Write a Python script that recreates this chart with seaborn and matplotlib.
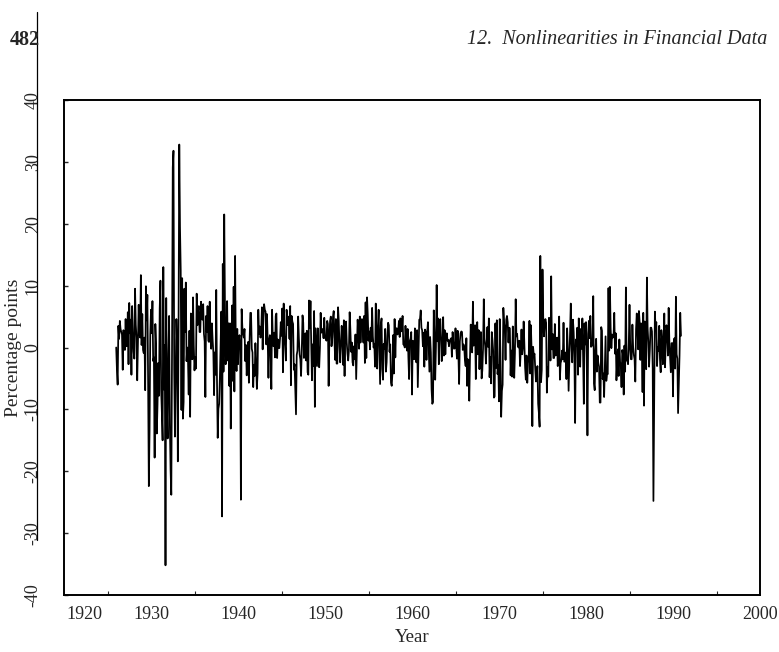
import numpy as np
import pandas as pd
import matplotlib
matplotlib.use('Agg')
import matplotlib.pyplot as plt
import matplotlib.transforms as mtransforms
from matplotlib.lines import Line2D
from matplotlib.ticker import MultipleLocator
import seaborn as sns

# monthly returns in percentage points, one decade per list
r1920s = [0.0, -3.6, -6.0, 3.5, 1.4, 4.3, 3.0, 2.5, 2.1, -3.6, 2.8, 1.8,
          -0.4, 4.6, 0.2, 0.4, 5.7, -2.7, 7.2, 2.3, 4.5, -4.4, 6.7, 2.2,
          -0.7, -1.8, 9.5, 3.7, 1.6, -5.3, 0.8, 6.9, 2.3, 1.6, 11.7, 0.4,
          5.4, -0.4, -0.9, 1.6, -6.9, 9.9, 4.4, 8.5, -5.2, -22.4, -13.6, 2.1]
r1930s = [6.1, 2.3, 7.5, -2.2, -1.6, -17.8, 3.8, 0.4, -13.9, -9.2, -2.5, -7.8,
          6.3, 10.8, -6.8, -10.6, -15.0, 13.0, -6.8, 0.4, -35.2, 8.0, -10.1, -14.7,
          -1.0, 5.1, -12.3, -19.8, -23.8, -0.8, 29.1, 31.8, -3.5, -14.4, -4.5, 4.6,
          0.6, -18.4, 3.3, 32.8, 19.4, 12.5, -10.1, 11.2, -11.5, -8.8, 9.5, 2.5,
          10.5, -2.2, 0.0, -1.9, -7.6, 2.7, -11.2, 5.5, -0.3, -1.9, 8.1, 0.3,
          -3.7, -1.5, -3.4, 8.7, 3.6, 6.0, 6.7, 2.5, 2.5, 7.4, 4.6, 4.5,
          7.0, 2.2, 1.0, -8.0, 5.1, 2.5, 6.7, 1.1, 0.9, 7.4, 1.8, -0.2,
          3.9, 1.3, -0.8, -7.7, -0.8, -4.4, 9.3, -5.1, -14.6, -9.9, -9.1, -4.8,
          0.8, 5.8, -27.3, 13.5, -3.9, 21.5, 7.1, -2.7, 0.5, 7.5, -2.1, 3.9,
          -6.2, 3.9, -13.1, -0.3, 6.8, -5.4, 9.8, -7.1, 14.8, -0.6, -3.8, 3.0]
r1940s = [-2.7, 1.2, 2.0, 0.0, -24.6, 6.2, 3.3, 2.3, 1.6, 3.0, -2.2, 0.4,
          -4.5, -1.3, 0.9, -5.7, 1.2, 5.6, 5.6, -0.2, -0.8, -6.4, -2.8, -4.6,
          0.7, -2.4, -6.7, -4.2, 6.1, 2.2, 3.4, 1.6, 2.6, 6.5, -0.3, 4.9,
          7.0, 6.1, 5.8, 0.5, 5.4, 0.9, -4.9, 1.2, 2.0, -1.3, -6.7, 6.1,
          1.6, 0.2, 2.4, -1.6, 5.1, 5.5, -1.7, 1.3, -0.1, -0.1, 1.5, 4.1,
          1.9, 6.3, -4.0, 7.1, 1.9, 0.2, -2.1, 6.1, 4.7, 3.6, 5.0, 1.4,
          6.7, -6.1, 5.1, 4.2, 3.8, -3.6, -2.7, -6.9, -10.8, -1.2, -0.5, 5.0,
          1.5, -1.1, -1.9, -4.6, -0.4, 5.2, 4.0, -1.7, -0.7, 2.3, -2.1, 2.7,
          -4.0, -4.4, 7.6, 3.1, 7.5, 0.5, -5.3, 0.5, -3.0, 5.9, -9.6, 3.1,
          0.2, -3.0, 3.1, -1.9, -3.2, -0.1, 5.6, 2.4, 2.7, 3.0, 1.5, 4.8]
r1950s = [1.6, 1.4, 1.1, 4.3, 3.8, -6.2, 1.3, 4.3, 5.0, 0.2, 1.6, 4.9,
          5.9, 1.3, -2.0, 4.6, -2.6, -2.6, 6.5, 4.3, 0.2, -2.4, 0.4, 3.5,
          1.5, -2.8, 4.4, -4.6, 3.1, 4.2, 0.8, -1.0, -2.1, -0.4, 5.7, 2.9,
          -0.7, 0.8, -2.4, -2.9, 0.2, -1.9, 2.1, -5.1, 0.0, 4.5, 2.6, -0.2,
          5.0, 0.8, 3.5, 4.6, 3.5, 0.8, 5.1, -2.5, 7.3, -1.7, 8.1, 5.3,
          1.1, 2.6, -0.3, 3.2, 1.0, 6.4, 1.8, 0.0, 0.6, -3.1, 7.1, 1.1,
          -3.4, 3.5, 6.1, -0.2, -5.9, 3.6, 4.7, -3.5, -5.2, 0.6, -0.2, 3.0,
          -3.9, -2.4, 1.9, 4.0, 3.6, -0.7, 0.5, -5.7, -6.2, -4.2, 2.0, -4.2,
          4.6, -1.6, 3.1, 3.1, 2.1, 2.7, 4.3, 1.7, 4.7, 2.6, 2.9, 5.1,
          0.5, 0.5, 0.0, 3.5, 1.3, -0.5, 3.0, -1.6, -5.1, 1.1, 1.5, 2.5]
r1960s = [-7.6, 1.1, -1.5, -1.9, 3.1, 2.0, -2.4, 2.8, -6.4, -0.7, 4.5, 4.6,
          6.0, 3.2, 2.8, 0.2, 2.4, -3.1, 2.9, 2.4, -2.0, 2.6, 4.1, 0.1,
          -3.9, 1.7, -0.8, -6.8, -9.1, -8.8, 6.0, 1.7, -5.2, 0.0, 10.1, 1.0,
          4.7, -2.7, 3.2, 4.6, 1.6, -2.2, -0.6, 4.9, -1.3, 2.8, -1.1, 1.8,
          2.3, 1.1, 1.2, 0.2, 1.1, 1.3, 1.5, -1.5, 2.5, 0.6, -0.2, -0.1,
          3.1, 0.2, -1.8, 2.7, -1.2, -5.9, 1.0, 2.3, 2.6, 2.5, -0.4, 0.5,
          0.1, -2.0, -3.0, 1.5, -6.2, -1.9, -2.1, -8.6, -1.6, 3.7, 0.5, -0.8,
          7.4, 0.3, 3.3, 3.6, -5.1, 1.3, 4.1, -1.1, 2.8, -3.5, 0.0, 2.5,
          -5.0, -3.7, -0.2, 7.8, 1.3, 0.2, -2.6, 0.9, 3.3, 0.1, 4.7, -4.8,
          -1.6, -5.8, 2.5, 1.2, -0.6, -8.1, -7.9, 3.9, -3.3, 4.4, -4.3, -2.9]
r1970s = [-8.7, 4.6, -1.0, -11.2, -7.0, -6.0, 6.4, 4.0, 3.0, -2.0, 4.5, 5.1,
          4.1, 0.8, 3.2, 3.1, -4.5, -0.5, -4.7, 3.4, -1.3, -4.9, -0.9, 7.8,
          1.8, 2.2, 0.2, 0.0, 1.1, -3.0, -0.6, 2.9, -1.1, 0.1, 4.2, 0.5,
          -3.2, -5.2, -1.3, -5.7, -2.5, -1.6, 4.3, -4.2, 3.6, -0.6, -12.7, 0.1,
          -1.3, -1.0, -3.5, -5.5, -4.5, -3.0, -9.1, -10.6, -12.8, 14.8, -5.6, -3.6,
          12.6, 4.9, 1.8, 3.8, 4.6, 4.0, -7.3, -3.2, -4.7, 4.8, 2.0, -2.1,
          11.5, -0.3, 2.2, -1.7, -1.7, 3.8, -1.3, -0.5, 1.6, -3.0, -0.5, 5.0,
          -5.2, -2.5, -2.1, -0.5, -1.9, 4.0, -2.3, -2.2, -0.8, -5.1, 3.1, -0.4,
          -7.0, -2.3, 2.0, 7.1, 0.7, -2.4, 4.5, 2.5, -1.6, -12.2, 1.3, 0.3,
          3.2, -4.4, 4.7, -0.8, -3.1, 3.0, -0.2, 4.7, -1.5, -9.1, 3.9, 0.5]
r1980s = [4.1, -1.7, -14.2, 2.2, 4.3, 1.5, 5.1, 0.1, 0.9, 0.3, 8.3, -5.8,
          -6.9, -0.5, 1.4, -3.9, -1.3, -2.5, -3.1, -8.9, -8.9, 3.3, 2.7, -5.1,
          -4.2, -8.0, -3.4, 1.8, -5.4, -4.2, -4.3, 9.6, -0.5, 9.8, 3.1, -0.1,
          2.1, 1.6, 1.7, 5.6, -1.0, 2.3, -5.3, -2.2, -0.3, -4.6, 1.3, -2.3,
          -3.0, -6.4, -0.4, -1.1, -7.6, 0.3, -3.9, 9.7, -2.1, -2.0, -2.7, 0.5,
          6.9, 0.0, -1.9, -1.9, 3.7, 0.1, -1.2, -1.9, -5.5, 2.9, 5.5, 3.0,
          -0.3, 5.9, 4.1, -2.0, 3.9, 0.3, -7.2, 5.6, -9.4, 4.2, 0.8, -3.5,
          11.3, 3.1, 0.8, -3.1, -0.5, 3.2, 3.2, 2.6, -3.4, -24.8, -9.4, 5.8,
          3.0, 4.1, -3.0, 0.0, -0.6, 3.5, -1.9, -4.0, 2.8, 1.1, -2.7, 0.7,
          5.5, -3.2, 0.7, 3.6, 2.6, -1.3, 6.4, 0.9, -1.5, -4.0, 0.7, 0.7]
r1990s = [-7.9, 0.9, 1.5, -3.4, 8.2, -1.1, -1.8, -10.6, -5.7, -1.3, 5.6, 1.9]

start_year = 1926
year_ticks = [1920, 1930, 1940, 1950, 1960, 1970, 1980, 1990, 2000]
pct_ticks = [-40, -30, -20, -10, 0, 10, 20, 30, 40]

vals = r1920s + r1930s + r1940s + r1950s + r1960s + r1970s + r1980s + r1990s
df = pd.DataFrame({'ret': vals})
df['Year'] = start_year + np.arange(len(df)) / 12.0

sns.set_style('white')
plt.rcParams['font.family'] = ['Liberation Serif', 'DejaVu Serif']

fig = plt.figure(figsize=(7.79, 6.52), dpi=100)
ax = fig.add_axes([64/779, 57/652, 696/779, 495/652])
sns.lineplot(data=df, x='Year', y='ret', color='black', linewidth=1.25, ax=ax)

ax.set_xlim(1920, 2000)
ax.set_ylim(-40, 40)
ax.set_xticks(year_ticks)
ax.xaxis.set_minor_locator(MultipleLocator(5))
ax.set_yticks(pct_ticks)
ax.set_yticklabels([str(t) for t in pct_ticks], rotation=90, va='center')
ax.tick_params(axis='x', which='major', direction='in', length=5, width=1, labelsize=13, pad=8)
ax.tick_params(axis='x', which='minor', direction='in', length=3, width=0.8, bottom=True)
ax.tick_params(axis='y', direction='in', length=3, width=1, labelsize=13, pad=16, left=True)
# on the page the 1920 label sits right of its tick, clear of the y labels
first = ax.get_xticklabels()[0]
first.set_transform(first.get_transform() + mtransforms.ScaledTranslation(20/100, 0, fig.dpi_scale_trans))
for s in ax.spines.values():
    s.set_color('black')
    s.set_linewidth(1.4)
ax.set_xlabel('Year', fontsize=13.5, labelpad=4)
ax.set_ylabel('Percentage points', fontsize=14, labelpad=2)

# page header of the scanned book
fig.text(10/779, 1 - 40/652, '482', fontsize=14.5, fontweight='bold', va='center', ha='left')
fig.text(767/779, 1 - 40/652, '12.  Nonlinearities in Financial Data', fontsize=14.5,
         style='italic', va='center', ha='right')
# binding line running down the margin of the scan
fig.add_artist(Line2D([37/779, 37/779], [1 - 12/652, 1 - 540/652], color='black', lw=0.9))

plt.savefig('out.png', dpi=100)
